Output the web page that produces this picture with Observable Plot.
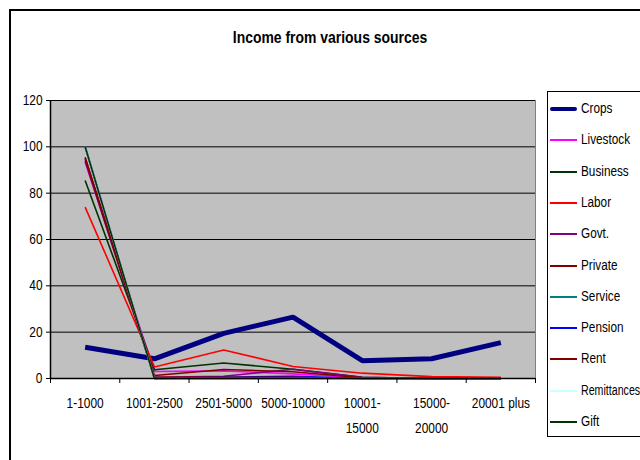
<!DOCTYPE html>
<html>
<head>
<meta charset="utf-8">
<script src="https://cdn.jsdelivr.net/npm/d3@7"></script>
<script src="https://cdn.jsdelivr.net/npm/@observablehq/plot@0.6"></script>
<style>
  html, body { margin: 0; padding: 0; background: #fff; }
  #wrap { position: relative; width: 640px; height: 460px; overflow: hidden; font-family: "Liberation Sans", Arial, sans-serif; }
  #border { position: absolute; left: 9px; top: 9px; width: 700px; height: 500px; border: 2px solid #000; box-sizing: border-box; }
  #title { position: absolute; left: 330px; top: 28px; transform: translateX(-50%) scaleX(0.82); font-weight: bold; font-size: 17px; color: #000; white-space: nowrap; }
  #chart { position: absolute; left: 0; top: 0; }
  #legend { position: absolute; left: 547px; top: 91px; width: 110px; height: 346px; border: 1px solid #000; box-sizing: border-box; background: #fff; }
  .item { position: absolute; left: 2px; height: 20px; font-size: 14px; color: #000; }
  .item .sw { position: absolute; left: 0; width: 27px; }
  .item .lb { position: absolute; left: 31px; top: 1px; white-space: nowrap; line-height: 16px; transform: scaleX(0.84); transform-origin: 0 50%; }
</style>
</head>
<body>
<div id="wrap">
  <div id="border"></div>
  <div id="chart"></div>
  <div id="title">Income from various sources</div>
  <div id="legend"></div>
</div>
<script>
const categories = ["1-1000", "1001-2500", "2501-5000", "5000-10000", "10001-15000", "15000-20000", "20001 plus"];
const tickLabels = ["1-1000", "1001-2500", "2501-5000", "5000-10000", "10001-\n15000", "15000-\n20000", "20001 plus"];
const yTicks = [0, 20, 40, 60, 80, 100, 120];

const seriesNames = ["Crops", "Livestock", "Business", "Labor", "Govt.", "Private", "Service", "Pension", "Rent", "Remittances", "Gift"];
const crops       = [13.5, 8.5, 19.5, 26.5, 7.7, 8.5, 15.5];
const livestock   = [93.5, 3.0, 3.3, 2.0, 0.3, 0, 0];
const business    = [85.5, 3.8, 6.7, 4.0, 0.5, 0, 0];
const labor       = [74.0, 5.0, 12.3, 5.2, 2.3, 0.8, 0.5];
const govt        = [94.0, 0.5, 1.0, 4.0, 0.5, 0, 0];
const privateSrc  = [95.0, 1.3, 3.9, 2.9, 0.3, 0, 0];
const service     = [100, 0, 0, 0.5, 0, 0, 0];
const pension     = [100, 0, 0.5, 1.0, 0, 0, 0];
const rent        = [95.5, 0.5, 0.5, 0.5, 0, 0, 0];
const remittances = [100, 0, 0, 0, 0, 0, 0];
const gift        = [100, 0, 0, 0, 0, 0, 0];

const seriesValues = [crops, livestock, business, labor, govt, privateSrc, service, pension, rent, remittances, gift];
const colors = ["#000080", "#FF00FF", "#003300", "#FF0000", "#800080", "#800000", "#008080", "#0000FF", "#800000", "#CCFFFF", "#003300"];
const widths = [5, 1.6, 1.6, 1.6, 1.6, 1.6, 1.6, 1.6, 1.6, 1.6, 1.6];

const font = '"Liberation Sans", Arial, sans-serif';
const idx = categories.map((c, i) => i);
const bounds = d3.range(categories.length + 1).map(i => i - 0.5);

const lineMarks = seriesNames.map((name, s) => {
  const data = categories.map((c, i) => ({i, v: seriesValues[s][i], name}));
  return Plot.line(data, {x: "i", y: "v", stroke: colors[s], strokeWidth: widths[s], strokeLinejoin: "miter", strokeLinecap: "butt"});
});

const chart = Plot.plot({
  width: 640,
  height: 460,
  marginLeft: 50,
  marginTop: 100,
  marginRight: 105,
  marginBottom: 82,
  style: {fontFamily: font, fontSize: "14px", color: "#000", background: "transparent", overflow: "visible"},
  x: {domain: [-0.5, categories.length - 0.5]},
  y: {domain: [0, 120]},
  marks: [
    Plot.frame({fill: "#C0C0C0", stroke: "#808080"}),
    Plot.gridY(yTicks, {stroke: "#000", strokeOpacity: 1, strokeWidth: 1}),
    ...lineMarks,
    Plot.ruleY([0], {stroke: "#000", strokeWidth: 1.5}),
    Plot.ruleX([-0.5], {stroke: "#000", strokeWidth: 1.5}),
    Plot.axisY(yTicks, {tickSize: 4, tickPadding: 4, stroke: "#000", fill: "#000", fontSize: 14, label: null}),
    Plot.axisX(bounds, {tickSize: 5, stroke: "#000", tickFormat: () => "", label: null}),
    Plot.axisX(idx, {tickSize: 0, tickPadding: 12, tickFormat: i => tickLabels[i], fill: "#000", fontSize: 14, lineHeight: 1.79, label: null})
  ]
});
// condense tick label text horizontally (Arial Narrow look)
d3.select(chart).selectAll("text").each(function() {
  const t = this.getAttribute("transform") || "";
  this.setAttribute("transform", t + " scale(0.85,1)");
});
document.getElementById("chart").appendChild(chart);

const legend = document.getElementById("legend");
seriesNames.forEach((name, s) => {
  const item = document.createElement("div");
  item.className = "item";
  const cy = 17 + s * 31.3;
  item.style.top = (cy - 10) + "px";
  const sw = document.createElement("div");
  sw.className = "sw";
  const h = s === 0 ? 4 : 2;
  sw.style.height = h + "px";
  sw.style.top = (10 - h / 2) + "px";
  sw.style.background = colors[s];
  sw.style.borderRadius = s === 0 ? "2px" : "0";
  const lb = document.createElement("span");
  lb.className = "lb";
  lb.textContent = name;
  if (name.length > 10) lb.style.transform = "scaleX(0.76)";
  item.appendChild(sw);
  item.appendChild(lb);
  legend.appendChild(item);
});
</script>
</body>
</html>
